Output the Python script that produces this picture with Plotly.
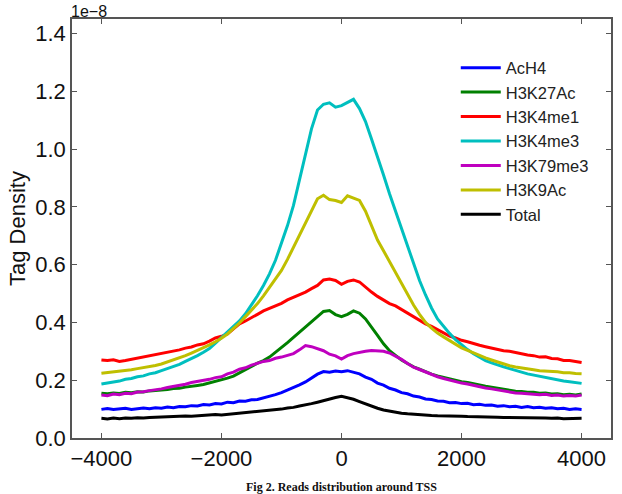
import plotly.graph_objects as go

# Position relative to TSS (bp)
positions = list(range(-4000, 4001, 100))

# Tag density values (units of 1e-8)
ach4 = [0.099, 0.102, 0.099, 0.101, 0.103, 0.099, 0.101, 0.104, 0.101, 0.105,
        0.103, 0.107, 0.105, 0.109, 0.108, 0.112, 0.111, 0.116, 0.114, 0.119,
        0.118, 0.124, 0.122, 0.128, 0.127, 0.132, 0.133, 0.138, 0.143, 0.150,
        0.157, 0.166, 0.173, 0.184, 0.194, 0.207, 0.221, 0.230, 0.228, 0.232,
        0.229, 0.233, 0.228, 0.222, 0.211, 0.203, 0.190, 0.183, 0.172, 0.166,
        0.157, 0.153, 0.145, 0.142, 0.135, 0.133, 0.128, 0.127, 0.122, 0.123,
        0.119, 0.120, 0.115, 0.117, 0.113, 0.114, 0.110, 0.112, 0.108, 0.110,
        0.106, 0.109, 0.105, 0.106, 0.103, 0.105, 0.101, 0.103, 0.099, 0.101,
        0.099]
h3k27ac = [0.155, 0.153, 0.156, 0.154, 0.158, 0.157, 0.160, 0.159, 0.163, 0.164,
           0.166, 0.168, 0.171, 0.172, 0.176, 0.178, 0.182, 0.185, 0.190, 0.195,
           0.202, 0.207, 0.214, 0.226, 0.238, 0.248, 0.259, 0.268, 0.280, 0.296,
           0.313, 0.330, 0.348, 0.366, 0.385, 0.403, 0.423, 0.438, 0.441, 0.427,
           0.420, 0.428, 0.440, 0.432, 0.412, 0.385, 0.355, 0.326, 0.302, 0.286,
           0.270, 0.258, 0.246, 0.238, 0.229, 0.221, 0.215, 0.210, 0.204, 0.199,
           0.195, 0.192, 0.187, 0.183, 0.179, 0.176, 0.172, 0.168, 0.166, 0.162,
           0.161, 0.158, 0.158, 0.155, 0.156, 0.152, 0.153, 0.150, 0.151, 0.149,
           0.152]
h3k4me1 = [0.270, 0.268, 0.271, 0.265, 0.268, 0.272, 0.277, 0.280, 0.286, 0.289,
           0.294, 0.297, 0.302, 0.305, 0.311, 0.315, 0.322, 0.326, 0.335, 0.346,
           0.352, 0.360, 0.378, 0.395, 0.405, 0.418, 0.428, 0.440, 0.449, 0.458,
           0.466, 0.478, 0.487, 0.496, 0.505, 0.517, 0.528, 0.547, 0.550, 0.545,
           0.532, 0.542, 0.547, 0.540, 0.522, 0.505, 0.490, 0.478, 0.465, 0.457,
           0.445, 0.432, 0.421, 0.407, 0.395, 0.386, 0.374, 0.364, 0.353, 0.346,
           0.338, 0.333, 0.326, 0.321, 0.316, 0.311, 0.308, 0.302, 0.300, 0.295,
           0.292, 0.287, 0.285, 0.280, 0.281, 0.275, 0.274, 0.268, 0.268, 0.264,
           0.261]
h3k4me3 = [0.187, 0.190, 0.194, 0.197, 0.203, 0.206, 0.212, 0.215, 0.222, 0.226,
           0.233, 0.240, 0.248, 0.255, 0.265, 0.274, 0.285, 0.297, 0.310, 0.328,
           0.348, 0.366, 0.385, 0.405, 0.430, 0.460, 0.492, 0.528, 0.568, 0.615,
           0.672, 0.735, 0.805, 0.890, 0.985, 1.070, 1.135, 1.155, 1.160, 1.145,
           1.150, 1.160, 1.172, 1.140, 1.095, 1.035, 0.975, 0.910, 0.845, 0.785,
           0.728, 0.662, 0.600, 0.545, 0.495, 0.450, 0.412, 0.385, 0.362, 0.340,
           0.322, 0.306, 0.292, 0.279, 0.268, 0.260, 0.252, 0.246, 0.240, 0.233,
           0.228, 0.222, 0.218, 0.212, 0.208, 0.204, 0.201, 0.197, 0.195, 0.191,
           0.189]
h3k79me3 = [0.149, 0.146, 0.152, 0.150, 0.155, 0.153, 0.159, 0.160, 0.164, 0.166,
            0.170, 0.175, 0.178, 0.182, 0.186, 0.192, 0.195, 0.200, 0.203, 0.209,
            0.212, 0.222, 0.228, 0.238, 0.243, 0.252, 0.258, 0.265, 0.268, 0.276,
            0.280, 0.285, 0.292, 0.305, 0.320, 0.316, 0.310, 0.302, 0.290, 0.284,
            0.273, 0.285, 0.292, 0.297, 0.300, 0.303, 0.302, 0.300, 0.294, 0.283,
            0.272, 0.258, 0.245, 0.237, 0.228, 0.219, 0.212, 0.206, 0.200, 0.195,
            0.190, 0.187, 0.182, 0.177, 0.173, 0.170, 0.166, 0.163, 0.160, 0.156,
            0.155, 0.153, 0.152, 0.150, 0.151, 0.147, 0.149, 0.145, 0.147, 0.145,
            0.149]
h3k9ac = [0.224, 0.226, 0.228, 0.231, 0.233, 0.236, 0.240, 0.243, 0.247, 0.251,
          0.256, 0.263, 0.270, 0.277, 0.285, 0.294, 0.303, 0.312, 0.322, 0.333,
          0.345, 0.360, 0.378, 0.398, 0.420, 0.442, 0.465, 0.492, 0.520, 0.550,
          0.580, 0.618, 0.660, 0.702, 0.745, 0.790, 0.828, 0.840, 0.825, 0.822,
          0.815, 0.838, 0.830, 0.822, 0.785, 0.735, 0.685, 0.648, 0.610, 0.572,
          0.535, 0.497, 0.460, 0.428, 0.400, 0.380, 0.363, 0.350, 0.338, 0.324,
          0.312, 0.303, 0.294, 0.285, 0.277, 0.270, 0.263, 0.256, 0.250, 0.246,
          0.242, 0.238, 0.236, 0.233, 0.232, 0.229, 0.229, 0.226, 0.226, 0.223,
          0.222]
total = [0.068, 0.066, 0.069, 0.067, 0.069, 0.068, 0.070, 0.069, 0.071, 0.072,
         0.073, 0.072, 0.074, 0.075, 0.076, 0.075, 0.077, 0.079, 0.079, 0.081,
         0.080, 0.082, 0.083, 0.086, 0.087, 0.090, 0.091, 0.094, 0.096, 0.098,
         0.100, 0.104, 0.106, 0.111, 0.114, 0.119, 0.124, 0.130, 0.136, 0.140,
         0.144, 0.140, 0.134, 0.126, 0.118, 0.110, 0.103, 0.097, 0.093, 0.089,
         0.086, 0.084, 0.082, 0.080, 0.079, 0.078, 0.077, 0.077, 0.076, 0.075,
         0.075, 0.074, 0.074, 0.073, 0.073, 0.072, 0.072, 0.071, 0.071, 0.070,
         0.071, 0.070, 0.070, 0.069, 0.069, 0.068, 0.069, 0.067, 0.068, 0.067,
         0.068]

series = [
    ("AcH4", ach4, "#0000ff"),
    ("H3K27Ac", h3k27ac, "#008000"),
    ("H3K4me1", h3k4me1, "#ff0000"),
    ("H3K4me3", h3k4me3, "#00bfbf"),
    ("H3K79me3", h3k79me3, "#bf00bf"),
    ("H3K9Ac", h3k9ac, "#bfbf00"),
    ("Total", total, "#000000"),
]

x_ticks = [-4000, -2000, 0, 2000, 4000]
x_ticktext = ["\u22124000", "\u22122000", "0", "2000", "4000"]
y_ticks = [0.0, 0.2, 0.4, 0.6, 0.8, 1.0, 1.2, 1.4]

FONT = "Liberation Sans, Arial, sans-serif"

fig = go.Figure()
for name, vals, color in series:
    n = min(len(positions), len(vals))
    fig.add_trace(go.Scatter(x=positions[:n], y=vals[:n], mode="lines", name=name,
                             line=dict(color=color, width=3)))

axis_common = dict(showline=True, linecolor="#555555", linewidth=1.5, mirror="ticks",
                   ticks="inside", ticklen=5, tickwidth=1.2, tickcolor="#555555",
                   showgrid=False, zeroline=False,
                   tickfont=dict(family=FONT, size=22, color="#111111"))

fig.update_layout(
    width=622, height=494,
    margin=dict(l=72, r=9, t=19, b=56),
    paper_bgcolor="white", plot_bgcolor="white",
    font=dict(family=FONT, color="#111111"),
    xaxis=dict(range=[-4490, 4490], tickvals=x_ticks, ticktext=x_ticktext, **axis_common),
    yaxis=dict(range=[0, 1.45], tickvals=y_ticks, tickformat=".1f",
               title=dict(text="Tag Density", font=dict(family=FONT, size=22, color="#111111"),
                          standoff=4),
               **axis_common),
    legend=dict(x=0.712, y=0.925, xanchor="left", yanchor="top",
                bgcolor="rgba(0,0,0,0)", borderwidth=0, itemwidth=40,
                font=dict(family=FONT, size=16.5, color="#222222")),
    showlegend=True,
)

fig.add_annotation(text="1e\u22128", xref="paper", yref="paper", x=0, y=1,
                   xanchor="left", yanchor="bottom", showarrow=False, xshift=-2, yshift=-2,
                   borderpad=0, font=dict(family=FONT, size=16, color="#111111"))
fig.add_annotation(text="<b>Fig 2. Reads distribution around TSS</b>", xref="paper", yref="paper",
                   x=0.5, y=0, xanchor="center", yanchor="top", yshift=-40, showarrow=False,
                   font=dict(family="Liberation Serif, Times New Roman, serif", size=12, color="#111111"))

fig.write_html("out.html")
